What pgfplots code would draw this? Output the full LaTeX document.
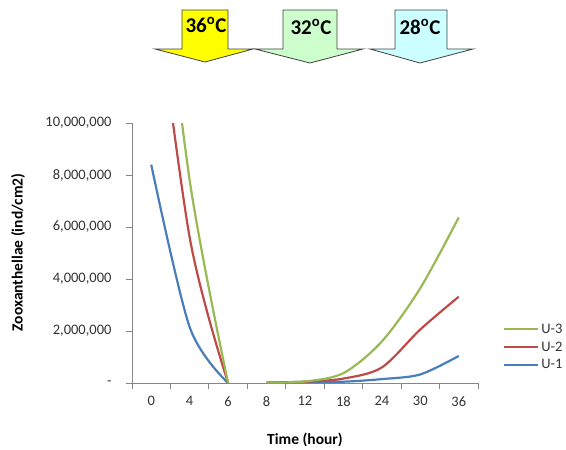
\documentclass[border=0pt]{standalone}
\usepackage{fontspec}
\setmainfont{Carlito}
\usepackage{pgfplots}
\pgfplotsset{compat=1.18}

\definecolor{serA}{HTML}{4A7EBB}
\definecolor{serB}{HTML}{BE4B48}
\definecolor{serC}{HTML}{98B954}
\definecolor{axgray}{HTML}{868686}
\definecolor{txt}{HTML}{333333}
\definecolor{arrY}{HTML}{FFFF00}
\definecolor{arrG}{HTML}{CCFFCC}
\definecolor{arrC}{HTML}{CCFFFF}

\begin{document}
\begin{tikzpicture}
\useasboundingbox (0pt,0pt) rectangle (566pt,-450pt);

% temperature arrows
\begin{scope}[x=1pt, y=1pt, draw=black!75, line width=0.8pt]
\filldraw[fill=arrY] (182,-10) -- (228,-10) -- (228,-49) -- (253,-49) -- (205,-62) -- (155,-49) -- (182,-49) -- cycle;
\filldraw[fill=arrG] (283,-10) -- (337,-10) -- (337,-49) -- (363,-49) -- (310,-63) -- (255,-49) -- (283,-49) -- cycle;
\filldraw[fill=arrC] (395,-10) -- (447,-10) -- (447,-49) -- (473,-49) -- (420,-63) -- (370,-49) -- (395,-49) -- cycle;
\node[font=\fontsize{21}{23}\selectfont\bfseries] at (206,-25) {36\textsuperscript{o}C};
\node[font=\fontsize{21}{23}\selectfont\bfseries] at (311,-27) {32\textsuperscript{o}C};
\node[font=\fontsize{21}{23}\selectfont\bfseries] at (420,-27) {28\textsuperscript{o}C};
\end{scope}

\begin{axis}[at={(132pt,-383pt)}, anchor=south west,
  width=346pt, height=260pt, scale only axis,
  xmin=-0.5, xmax=8.5, ymin=0, ymax=10000000,
  axis x line*=bottom, axis y line*=left,
  axis line style={axgray, line width=0.8pt},
  tick align=outside, tick style={axgray, line width=0.8pt},
  major tick length=6pt,
  xtick={-0.5,0.5,...,8.5}, xticklabels={},
  extra x ticks={0,1,2,3,4,5,6,7,8},
  extra x tick labels={0,4,6,8,12,18,24,30,36},
  extra x tick style={major tick length=0pt},
  ytick={0,2000000,4000000,6000000,8000000,10000000},
  yticklabels={-,{2,000,000},{4,000,000},{6,000,000},{8,000,000},{10,000,000}},
  scaled y ticks=false,
  ticklabel style={font=\fontsize{14.5}{16}\selectfont, text=txt},
  xticklabel style={yshift=-10pt},
  yticklabel style={xshift=-11pt},
  xlabel={Time (hour)}, ylabel={Zooxanthellae (ind/cm2)},
  label style={font=\fontsize{15.5}{17}\selectfont\bfseries, text=black},
  xlabel style={at={(axis description cs:0.5,-0.219)}, anchor=center},
  ylabel style={at={(axis description cs:-0.329,0.502)}, anchor=center},
  legend style={at={(axis description cs:1.072,0.138)}, anchor=west, draw=none, fill=none,
    font=\fontsize{14.5}{16}\selectfont, text=txt, inner sep=0pt, row sep=3pt},
  legend cell align=left, reverse legend,
  legend image code/.code={\draw[#1] (0,0) -- (34pt,0);},
  every axis plot/.append style={line width=2.2pt, smooth, no markers}
]
% 36 C phase
\addplot[serA] coordinates {(0,8400000) (1,2150000) (2,0)};
\addlegendentry{U-1}
\addplot[serB] coordinates {(0,16500000) (1,5600000) (2,0)};
\addlegendentry{U-2}
\addplot[serC] coordinates {(0,20000000) (1,7800000) (2,0)};
\addlegendentry{U-3}
% 32 C and 28 C phases
\addplot[serA, forget plot] coordinates {(3,20000) (4,40000) (5,50000) (6,150000) (7,330000) (8,1040000)};
\addplot[serB, forget plot] coordinates {(3,20000) (4,50000) (5,170000) (6,600000) (7,2060000) (8,3320000)};
\addplot[serC, forget plot] coordinates {(3,20000) (4,60000) (5,380000) (6,1600000) (7,3650000) (8,6370000)};
\end{axis}
\end{tikzpicture}
\end{document}
